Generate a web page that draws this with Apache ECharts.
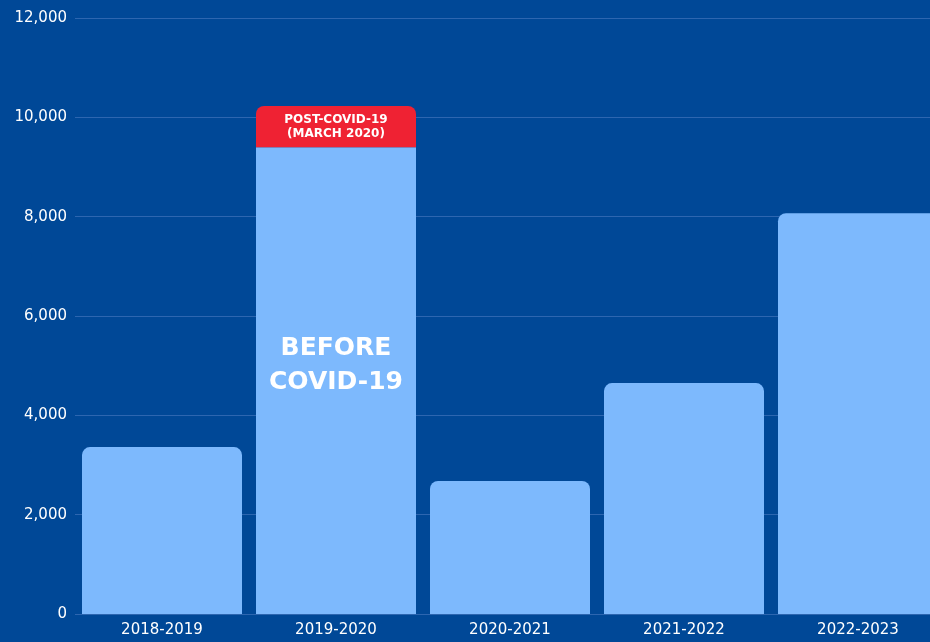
<!DOCTYPE html>
<html>
<head>
<meta charset="utf-8">
<script src="https://cdn.jsdelivr.net/npm/echarts@6/dist/echarts.min.js"></script>
<style>
  html, body { margin: 0; padding: 0; background: #004897; overflow: hidden; }
  #chart { width: 945px; height: 642px; }
</style>
</head>
<body>
<div id="chart"></div>
<script>
const years = ['2018-2019', '2019-2020', '2020-2021', '2021-2022', '2022-2023'];
const beforeCovid = [3360, 9400, 2680, 4650, 8070];
const postCovid = [0, 830, 0, 0, 0];
const yTicks = [0, 2000, 4000, 6000, 8000, 10000, 12000];

// chart is a bit wider than the window so the last bar runs off the right edge
const chart = echarts.init(document.getElementById('chart'));

const blueData = beforeCovid.map((v, i) => {
	const item = {value: v, itemStyle: {borderRadius: postCovid[i] > 0 ? 0 : [8, 8, 0, 0]}};
	if (i === 1) {
		item.label = {
			show: true,
			formatter: 'BEFORE\nCOVID-19',
			color: '#ffffff',
			fontFamily: 'DejaVu Sans',
			fontWeight: 'bold',
			fontSize: 25,
			lineHeight: 34,
			offset: [0, -15]
		};
	}
	return item;
});

const redData = postCovid.map((v, i) => {
	if (!v) return null;
	return {
		value: v,
		itemStyle: {borderRadius: [8, 8, 0, 0]},
		label: {
			show: true,
			formatter: 'POST-COVID-19\n(MARCH 2020)',
			color: '#ffffff',
			fontFamily: 'DejaVu Sans',
			fontWeight: 'bold',
			fontSize: 12,
			lineHeight: 14
		}
	};
});

const option = {
	backgroundColor: '#004897',
	animation: false,
	grid: {left: 75, right: 0, top: 18, bottom: 28},
	xAxis: {
		type: 'category',
		data: years,
		axisLine: {show: false},
		axisTick: {show: false},
		axisLabel: {
			color: '#ffffff',
			fontFamily: 'DejaVu Sans',
			fontSize: 15,
			margin: 9
		}
	},
	yAxis: {
		type: 'value',
		min: yTicks[0],
		max: yTicks[yTicks.length - 1],
		interval: 2000,
		axisLine: {show: false},
		axisTick: {show: false},
		splitLine: {lineStyle: {color: '#2d66b0', width: 1}},
		axisLabel: {
			color: '#ffffff',
			fontFamily: 'DejaVu Sans',
			fontSize: 15,
			margin: 8,
			formatter: v => v.toLocaleString('en-US')
		}
	},
	series: [
		{
			name: 'Before COVID-19',
			type: 'bar',
			stack: 'total',
			barWidth: 160,
			itemStyle: {color: '#7db9fd'},
			data: blueData
		},
		{
			name: 'Post-COVID-19',
			type: 'bar',
			stack: 'total',
			barWidth: 160,
			itemStyle: {color: '#ef2233'},
			data: redData
		}
	]
};

chart.setOption(option);
</script>
</body>
</html>
